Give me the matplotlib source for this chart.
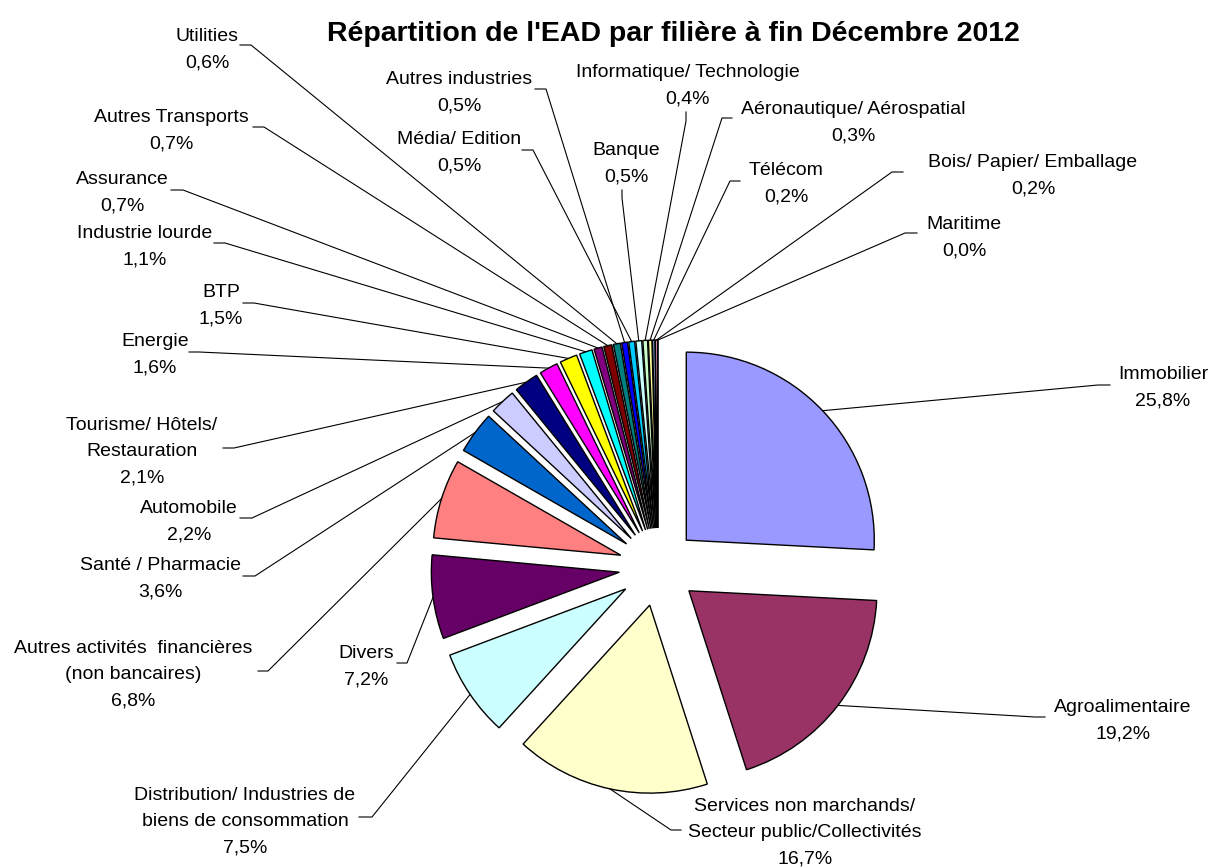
import matplotlib
matplotlib.use('Agg')
import matplotlib.pyplot as plt
import numpy as np

plt.rcParams['font.family'] = ['Liberation Sans', 'DejaVu Sans']

W, H = 1213, 868

filieres = ['Immobilier', 'Agroalimentaire',
            'Services non marchands/\nSecteur public/Collectivités',
            'Distribution/ Industries de\nbiens de consommation',
            'Divers', 'Autres activités  financières\n(non bancaires)',
            'Santé / Pharmacie', 'Automobile', 'Tourisme/ Hôtels/\nRestauration',
            'Energie', 'BTP', 'Industrie lourde', 'Assurance', 'Autres Transports',
            'Utilities', 'Autres industries', 'Média/ Edition', 'Banque',
            'Informatique/ Technologie', 'Aéronautique/ Aérospatial', 'Télécom',
            'Bois/ Papier/ Emballage', 'Maritime']
parts = [25.8, 19.2, 16.7, 7.5, 7.2, 6.8, 3.6, 2.2, 2.1, 1.6, 1.5, 1.1, 0.7, 0.7,
         0.6, 0.5, 0.5, 0.5, 0.4, 0.3, 0.2, 0.2, 0.0]
colors = ['#9999FF', '#993366', '#FFFFCC', '#CCFFFF', '#660066', '#FF8080',
          '#0066CC', '#CCCCFF', '#000080', '#FF00FF', '#FFFF00', '#00FFFF',
          '#800080', '#800000', '#008080', '#0000FF', '#00CCFF', '#CCFFFF',
          '#CCFFCC', '#FFFF99', '#99CCFF', '#FF99CC', '#CC99FF']

# label layout in pixel coords (y from top): text centre x, first line centre y,
# leader anchor on the label, end of the short stub
label_pos = [(1163, 372), (1123, 705), (805, 804), (245, 793), (366, 651),
             (133, 646), (160, 563), (189, 506), (142, 423), (155, 339),
             (221, 290), (145, 231), (122, 177), (171, 115), (207, 34),
             (459, 77), (459, 137), (626, 148), (688, 70), (853, 107),
             (786, 168), (1033, 160), (964, 222)]
anchors = [((1110, 385), (1098, 385)), ((1045, 717), (1035, 717)),
           ((681, 830), (671, 830)), ((359, 817), (372, 817)),
           ((397, 663), (407, 663)), ((258, 671), (268, 671)),
           ((243, 576), (255, 576)), ((240, 518), (252, 518)),
           ((223, 448), (234, 448)), ((189, 352), (199, 352)),
           ((243, 303), (254, 303)), ((214, 243), (225, 243)),
           ((171, 190), (183, 190)), ((253, 127), (264, 127)),
           ((240, 45), (251, 45)), ((535, 89), (546, 89)),
           ((522, 150), (533, 150)), ((622, 190), (622, 198)),
           ((686, 112), (686, 121)), ((732, 118), (722, 118)),
           ((740, 181), (730, 181)), ((903, 172), (892, 172)),
           ((917, 233), (905, 233))]

fig = plt.figure(figsize=(W / 100, H / 100), dpi=100)
ax = fig.add_axes([0, 0, 1, 1])

wedges, _ = ax.pie(parts, colors=colors, startangle=90, counterclock=False,
                   radius=188, center=(658, H - 567), explode=[39] * len(parts),
                   wedgeprops=dict(edgecolor='black', linewidth=1.0))
ax.set_xlim(0, W)
ax.set_ylim(0, H)
ax.set_aspect('equal')
ax.axis('off')

for w, name, v, (cx, cy), (a, s) in zip(wedges, filieres, parts, label_pos, anchors):
    tm = np.deg2rad((w.theta1 + w.theta2) / 2)
    px = w.center[0] + w.r * np.cos(tm)
    py = w.center[1] + w.r * np.sin(tm)
    ax.plot([a[0], s[0], px], [H - a[1], H - s[1], py], color='black', lw=0.8)
    lines = name.split('\n') + [f'{v:.1f}'.replace('.', ',') + '%']
    for i, ln in enumerate(lines):
        ax.text(cx, H - (cy + 7 + i * 26.2), ln, ha='center', va='baseline', fontsize=14)

ax.text(673, H - 41, "Répartition de l'EAD par filière à fin Décembre 2012",
        ha='center', va='baseline', fontsize=20.5, fontweight='bold')

fig.savefig('out.png', dpi=100)
